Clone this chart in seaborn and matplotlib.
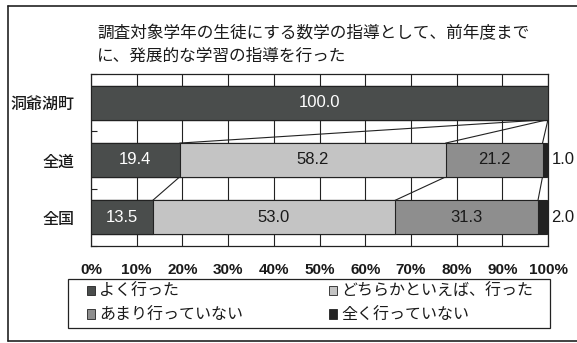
import matplotlib
matplotlib.use("Agg")
import matplotlib.pyplot as plt
import seaborn as sns
import pandas as pd
import numpy as np
from matplotlib.patches import Patch, Rectangle
from matplotlib.lines import Line2D

regions = ["洞爺湖町", "全道", "全国"]
yoku = [100.0, 19.4, 13.5]
dochiraka = [0.0, 58.2, 53.0]
amari = [0.0, 21.2, 31.3]
mattaku = [0.0, 1.0, 2.0]
series_names = ["よく行った", "どちらかといえば、行った", "あまり行っていない", "全く行っていない"]
colors = ["#4a4d4c", "#c4c4c4", "#8e8e8e", "#222222"]
text_colors = ["white", "#1a1a1a", "#1a1a1a", "white"]
xticks = [0, 10, 20, 30, 40, 50, 60, 70, 80, 90, 100]
xtick_labels = ["0%", "10%", "20%", "30%", "40%", "50%", "60%", "70%", "80%", "90%", "100%"]
title = "調査対象学年の生徒にする数学の指導として、前年度まで\nに、発展的な学習の指導を行った"

sns.set_theme(style="white")
plt.rcParams["font.family"] = ["Noto Sans CJK JP", "DejaVu Sans"]
NARROW = ["Liberation Sans Narrow", "DejaVu Sans Condensed", "Liberation Sans", "DejaVu Sans"]

W, H = 577, 343
fig = plt.figure(figsize=(W / 100, H / 100), dpi=100)
ax = fig.add_axes([91 / W, 1 - 246 / H, (548 - 91) / W, (246 - 74) / H])

vals = np.array([yoku, dochiraka, amari, mattaku])
cum = np.cumsum(vals, axis=0)
bar_h = 0.59

# stacked bars: draw cumulative totals from the last series to the first
for k in range(3, -1, -1):
    df = pd.DataFrame({"region": regions, "value": cum[k]})
    sns.barplot(data=df, x="value", y="region", orient="h", color=colors[k],
                width=bar_h, edgecolor="#222222", linewidth=0.8, ax=ax,
                saturation=1, zorder=3)

ax.set_xlim(0, 100)
ax.set_ylim(2.5, -0.5)
ax.set_xlabel("")
ax.set_ylabel("")
ax.set_xticks(xticks)
ax.set_xticklabels(xtick_labels, fontfamily=NARROW, fontsize=11, fontweight="bold", color="#1a1a1a")
ax.tick_params(axis="x", length=0, pad=12)
ax.set_yticks(range(len(regions)))
ax.set_yticklabels(regions, fontsize=11.5, fontweight="medium", color="#1a1a1a")
ax.tick_params(axis="y", length=0, pad=12)
ax.set_yticks([-0.5, 0.5, 1.5, 2.5], minor=True)
ax.tick_params(axis="y", which="minor", direction="in", length=4, width=0.8, color="#222222", left=True)
ax.xaxis.grid(True, color="#222222", linewidth=0.8, zorder=0)
ax.set_axisbelow(True)
for s in ax.spines.values():
    s.set_visible(True)
    s.set_color("#222222")
    s.set_linewidth(0.9)

# series lines between bars
for i in range(len(regions) - 1):
    for k in range(3):
        ax.plot([cum[k][i], cum[k][i + 1]], [i + bar_h / 2, i + 1 - bar_h / 2],
                color="#222222", linewidth=0.8, zorder=2, clip_on=False)

# value labels
for i in range(len(regions)):
    for k in range(4):
        v = vals[k][i]
        if v <= 0:
            continue
        if v < 5:
            ax.text(103.3, i, f"{v:.1f}", ha="center", va="center", fontsize=12,
                    fontfamily=NARROW, color="#1a1a1a", clip_on=False)
        else:
            ax.text(cum[k][i] - v / 2, i, f"{v:.1f}", ha="center", va="center",
                    fontsize=12, fontfamily=NARROW, color=text_colors[k], zorder=5)

# title
fig.text(97 / W, 1 - 45 / H, title, ha="left", va="center", fontsize=12,
         color="#1a1a1a", linespacing=1.45)

# legend (frameless, with a separate box)
handles = [Patch(facecolor=colors[k], edgecolor="#222222", linewidth=0.6) for k in range(4)]
order = [0, 2, 1, 3]
leg = ax.legend([handles[k] for k in order], [series_names[k] for k in order], ncol=2,
                loc="center left", bbox_to_anchor=(87 / W, 1 - 303.5 / H),
                bbox_transform=fig.transFigure, frameon=False, fontsize=11.5,
                handlelength=0.5, handleheight=0.5, handletextpad=0.25,
                borderpad=0.0, labelspacing=0.4, borderaxespad=0, columnspacing=5.4)
for t in leg.get_texts():
    t.set_color("#1a1a1a")
fig.add_artist(Rectangle((68 / W, 1 - 328 / H), (550 - 68) / W, (328 - 279) / H,
                         transform=fig.transFigure, fill=False, edgecolor="#222222",
                         linewidth=0.9))

# outer border (left, top, bottom)
for xs, ys in [([8, 8], [6, 341]), ([8, 577], [6, 6]), ([8, 577], [341, 341])]:
    fig.add_artist(Line2D([x / W for x in xs], [1 - y / H for y in ys],
                          transform=fig.transFigure, color="#222222", linewidth=1.2))

fig.savefig("out.png", dpi=100)
